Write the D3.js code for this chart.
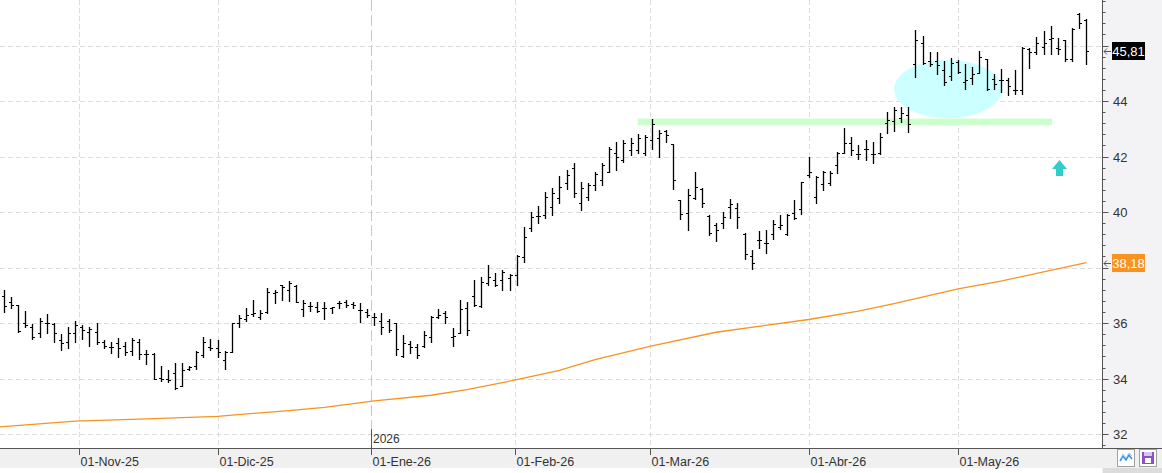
<!DOCTYPE html>
<html>
<head>
<meta charset="utf-8">
<script src="https://cdnjs.cloudflare.com/ajax/libs/d3/7.8.5/d3.min.js"></script>
<style>
  body { margin: 0; background: #fff; }
  svg { display: block; font-family: "Liberation Sans", Arial, sans-serif; }
</style>
</head>
<body>
<div id="chart"></div>
<script>
// daily OHLC, one entry per session (mid Oct 25 -> mid May 26)
const opens = [36.97,36.77,36.65,36.0,35.87,35.63,35.99,35.95,35.39,35.33,35.63,35.87,35.69,35.69,35.33,35.15,35.27,35.19,34.99,35.33,
  34.89,34.89,34.01,33.99,34.21,33.73,34.33,34.45,34.85,35.15,35.09,34.67,34.95,36.0,36.13,36.31,36.23,36.41,37.1,37.37,
  37.19,37.33,36.49,36.61,36.59,36.53,36.53,36.71,36.77,36.69,36.47,36.41,36.23,36.07,36.07,36.01,34.81,35.25,35.15,35.17,
  35.51,36.23,36.35,35.51,35.65,36.53,36.97,36.61,37.45,37.55,37.55,37.61,37.73,38.39,39.41,39.85,39.89,40.17,40.49,41.03,
  41.57,40.31,40.55,40.97,41.17,41.43,42.13,41.86,42.24,42.24,42.12,42.6,42.66,42.92,42.46,40.44,39.96,40.5,40.84,39.86,
  39.54,39.6,40.2,40.14,39.22,38.4,39.0,38.88,39.22,39.46,39.22,39.98,40.1,41.34,40.54,41.02,41.06,41.7,42.14,42.5,
  42.1,42.26,42.1,42.12,43.2,43.28,43.38,43.5,45.34,46.08,45.46,45.46,45.12,44.9,45.42,44.7,44.82,45.0,45.5,44.8,
  44.74,44.76,44.4,44.4,45.86,45.76,45.96,46.24,45.9,46.2,45.5,47.12,46.92];
const highs = [37.19,36.95,36.65,36.43,35.97,36.17,36.31,35.99,35.61,35.87,36.06,35.93,35.87,35.99,35.39,35.33,35.45,35.33,35.45,35.42,
  35.03,34.91,34.45,34.31,34.57,34.55,34.45,34.99,35.51,35.41,35.39,34.99,35.99,36.29,36.53,36.83,36.47,37.25,37.19,37.37,
  37.53,37.37,36.83,36.77,36.77,36.75,36.59,36.81,36.83,36.75,36.71,36.49,36.35,36.37,36.13,36.01,35.57,35.37,35.23,35.73,
  36.27,36.51,36.45,35.81,36.83,36.75,37.55,37.67,38.09,37.79,37.91,37.77,38.47,39.45,40.01,40.21,40.73,40.85,41.29,41.51,
  41.75,41.09,41.05,41.43,41.75,42.35,42.51,42.6,42.66,42.82,42.78,43.34,42.94,42.96,42.46,40.44,40.82,41.46,40.86,39.9,
  39.62,40.02,40.46,40.32,39.24,38.62,39.3,39.34,39.72,39.9,39.94,40.44,41.1,42.0,41.3,41.48,41.48,42.18,43.02,42.7,
  42.42,42.6,42.54,42.86,43.62,43.78,43.78,43.78,46.56,46.34,45.76,45.76,45.46,45.54,45.48,45.34,45.24,45.8,45.5,44.98,
  45.14,44.82,45.12,45.94,45.9,46.3,46.52,46.72,46.26,46.2,46.64,47.16,46.94];
const lows = [36.41,36.53,35.69,35.87,35.41,35.51,35.65,35.33,35.03,35.11,35.33,35.41,35.19,35.25,35.09,34.91,34.77,34.85,34.85,34.71,
  34.51,33.99,33.93,33.89,33.61,33.73,34.31,34.33,34.79,35.03,34.77,34.33,34.95,35.87,36.09,36.27,36.13,36.35,36.71,36.83,
  36.81,36.77,36.27,36.45,36.41,36.15,36.35,36.53,36.57,36.53,36.05,36.23,35.93,35.59,35.67,34.85,34.79,34.93,34.75,35.15,
  35.33,36.17,36.01,35.19,35.63,35.57,36.61,36.57,37.37,37.33,37.21,37.21,37.37,38.21,39.33,39.59,39.77,39.91,40.33,40.83,
  40.55,40.07,40.45,40.79,40.99,41.43,41.53,41.8,42.04,42.12,42.06,42.26,42.0,42.52,40.82,39.74,39.34,40.46,40.18,39.18,
  38.94,39.42,39.78,39.42,38.3,37.94,38.7,38.52,39.02,39.38,39.18,39.74,39.92,41.26,40.34,40.8,40.98,41.4,42.12,42.04,
  41.92,41.88,41.76,42.08,42.84,42.92,43.24,42.88,44.88,45.32,45.26,44.98,44.56,44.76,45.02,44.44,44.62,45.0,44.38,44.44,
  44.34,44.2,44.24,44.24,45.2,45.7,45.68,45.7,45.68,45.46,45.46,46.62,45.32];
const closes = [36.61,36.65,35.72,35.93,35.49,36.09,35.99,35.65,35.27,35.63,35.93,35.75,35.77,35.33,35.19,35.15,35.09,34.97,35.39,34.89,
  34.89,33.99,33.97,33.95,33.65,34.31,34.41,34.97,35.33,35.09,34.97,34.97,35.99,36.17,36.29,36.35,36.37,37.13,37.13,37.3,
  37.43,36.77,36.71,36.61,36.45,36.53,36.59,36.71,36.65,36.65,36.47,36.29,36.23,35.87,35.75,35.05,35.27,35.15,34.85,35.57,
  36.23,36.29,36.23,35.53,36.49,35.75,36.65,37.47,37.67,37.37,37.85,37.73,38.41,39.11,39.83,39.85,40.55,40.69,40.89,41.33,
  40.67,40.85,40.97,41.37,41.69,42.29,41.97,42.5,42.5,42.66,42.72,43.18,42.84,42.78,41.16,39.94,40.62,40.9,40.32,39.24,
  39.34,39.82,40.3,39.82,38.5,38.16,39.0,38.88,39.58,39.54,39.9,39.78,41.1,41.44,41.28,41.46,41.4,42.14,42.48,42.24,
  42.1,42.28,42.1,42.72,43.32,43.66,43.58,43.16,46.2,45.38,45.32,45.3,44.7,45.38,45.06,44.74,44.98,45.58,44.42,44.62,
  44.74,44.54,44.4,45.9,45.78,46.1,46.1,46.26,45.86,45.5,46.6,46.8,45.81];

// long moving average (orange), read at a few sessions
const maIndex  = [-0.6, 10, 20, 30, 40, 45, 52, 60, 65, 72, 78, 83, 91, 100, 113, 120, 125, 134, 140, 152];
const maValues = [32.26,32.47,32.55,32.64,32.85,32.96,33.2,33.4,33.6,33.96,34.3,34.68,35.18,35.67,36.13,36.43,36.7,37.23,37.51,38.18];

// month ticks (session position of the 1st of each month)
const monthIndex  = [10.5, 30, 51.5, 71.75, 90.75, 113, 134];
const monthLabels = ['01-Nov-25', '01-Dic-25', '01-Ene-26', '01-Feb-26', '01-Mar-26', '01-Abr-26', '01-May-26'];
const yearIndex = 51.5;
const yearLabel = '2026';

const priceTicks = [32, 34, 36, 38, 40, 42, 44, 46];

// annotations
const resistance = 43.25;
const resistanceFrom = 89, resistanceTo = 147.2;
const zoneIndex = 132.6, zonePrice = 44.43, zoneHalfBars = 7.6, zoneHalfPrice = 1.05;
const arrowIndex = 148.1, arrowPrice = 41.87;

const lastClose = closes[closes.length - 1];
const lastMa = maValues[maValues.length - 1];

const w = 1162;
const h = 473;
const plotRight = 1102.5;
const plotBottom = 448.5;
const maColor = '#f7931e';

const x = d3.scaleLinear().domain([0, 152]).range([4, 1086.3]);
const y = d3.scaleLinear().domain([31.5, 47.64]).range([448, 0]);
const px = (v) => Math.round(x(v)) + 0.5;
const py = (v) => Math.round(y(v)) + 0.5;

const svg = d3.select('#chart')
  .append('svg')
  .attr('width', w)
  .attr('height', h);

svg.append('rect').attr('width', w).attr('height', h).attr('fill', '#fff');

// right panel + bottom band
svg.append('rect').attr('x', plotRight).attr('y', 0).attr('width', w - plotRight).attr('height', plotBottom).attr('fill', '#f3f3f5');
svg.append('rect').attr('x', 0).attr('y', plotBottom).attr('width', w).attr('height', 19.5).attr('fill', '#f0f0f0');
svg.append('rect').attr('x', plotRight).attr('y', 468).attr('width', w - plotRight).attr('height', 5).attr('fill', '#dcdcdc');

svg.append('clipPath').attr('id', 'plot')
  .append('rect').attr('width', plotRight).attr('height', plotBottom);

const plot = svg.append('g').attr('clip-path', 'url(#plot)');

// grid
plot.selectAll('.hgrid')
  .data(priceTicks)
  .enter()
  .append('line')
  .attr('x1', 0).attr('x2', plotRight)
  .attr('y1', (d) => py(d)).attr('y2', (d) => py(d))
  .attr('stroke', '#dcdcdc')
  .attr('stroke-dasharray', '5,3');

plot.selectAll('.vgrid')
  .data(monthIndex)
  .enter()
  .append('line')
  .attr('x1', (d) => px(d)).attr('x2', (d) => px(d))
  .attr('y1', 0).attr('y2', plotBottom)
  .attr('stroke', (d) => d === yearIndex ? '#c8c8c8' : '#dcdcdc')
  .attr('stroke-dasharray', (d) => d === yearIndex ? '11,4' : '5,3');

// resistance band and zone
plot.append('rect')
  .attr('x', x(resistanceFrom))
  .attr('y', y(resistance) - 3.3)
  .attr('width', x(resistanceTo) - x(resistanceFrom))
  .attr('height', 6.6)
  .attr('fill', '#ccffcc');

plot.append('ellipse')
  .attr('cx', x(zoneIndex))
  .attr('cy', y(zonePrice))
  .attr('rx', x(zoneIndex + zoneHalfBars) - x(zoneIndex))
  .attr('ry', y(zonePrice - zoneHalfPrice) - y(zonePrice))
  .attr('fill', '#ccffff');

// moving average
const maLine = d3.line()
  .x((d) => x(d[0]))
  .y((d) => y(d[1]));

plot.append('path')
  .datum(maIndex.map((d, i) => [d, maValues[i]]))
  .attr('d', maLine)
  .attr('fill', 'none')
  .attr('stroke', maColor)
  .attr('stroke-width', 1.3);

// OHLC bars
const bars = plot.selectAll('.bar')
  .data(closes.map((c, i) => ({ i, o: opens[i], h: highs[i], l: lows[i], c })))
  .enter()
  .append('g')
  .attr('class', 'bar')
  .attr('stroke', '#000')
  .attr('stroke-width', 1);

bars.append('line')
  .attr('x1', (d) => px(d.i)).attr('x2', (d) => px(d.i))
  .attr('y1', (d) => Math.round(y(d.h))).attr('y2', (d) => Math.round(y(d.l)) + 1)
  .attr('stroke-width', 1.3);

bars.append('line')
  .attr('x1', (d) => px(d.i) - 2.5).attr('x2', (d) => px(d.i))
  .attr('y1', (d) => py(d.o)).attr('y2', (d) => py(d.o));

bars.append('line')
  .attr('x1', (d) => px(d.i)).attr('x2', (d) => px(d.i) + 2.5)
  .attr('y1', (d) => py(d.c)).attr('y2', (d) => py(d.c));

// up arrow
const ax = Math.round(x(arrowIndex)) + 0.5;
const ay = Math.round(y(arrowPrice));
plot.append('path')
  .attr('d', `M${ax},${ay} L${ax + 7.5},${ay + 9} L${ax + 3.5},${ay + 9} L${ax + 3.5},${ay + 16} L${ax - 3.5},${ay + 16} L${ax - 3.5},${ay + 9} L${ax - 7.5},${ay + 9} Z`)
  .attr('fill', '#33cccc');

// right axis
const minorTicks = d3.range(31.6, 47.7, 0.4);
svg.append('g')
  .selectAll('line')
  .data(minorTicks)
  .enter()
  .append('line')
  .attr('x1', plotRight).attr('x2', plotRight + 3)
  .attr('y1', (d) => py(d)).attr('y2', (d) => py(d))
  .attr('stroke', '#555');

svg.append('g')
  .selectAll('line')
  .data(priceTicks)
  .enter()
  .append('line')
  .attr('x1', plotRight).attr('x2', plotRight + 6)
  .attr('y1', (d) => py(d)).attr('y2', (d) => py(d))
  .attr('stroke', '#555');

// labels hidden behind the last-value boxes are left out, as in the original
const markerValues = [lastClose, lastMa];
svg.append('g')
  .selectAll('text')
  .data(priceTicks.filter((d) => markerValues.every((m) => Math.abs(y(d) - y(m)) > 14)))
  .enter()
  .append('text')
  .attr('x', 1113)
  .attr('y', (d) => y(d) + 5)
  .text((d) => d)
  .style('font-size', '13px')
  .attr('fill', '#333');

svg.append('line')
  .attr('x1', plotRight).attr('x2', plotRight)
  .attr('y1', 0).attr('y2', plotBottom)
  .attr('stroke', '#555');

// bottom axis
svg.append('line')
  .attr('x1', 0).attr('x2', w)
  .attr('y1', plotBottom).attr('y2', plotBottom)
  .attr('stroke', '#555');

svg.append('g')
  .selectAll('line')
  .data(monthIndex)
  .enter()
  .append('line')
  .attr('x1', (d) => px(d)).attr('x2', (d) => px(d))
  .attr('y1', (d) => d === yearIndex ? 429 : plotBottom).attr('y2', 455)
  .attr('stroke', '#555');

svg.append('g')
  .selectAll('text')
  .data(monthIndex)
  .enter()
  .append('text')
  .attr('x', (d) => px(d) + 1)
  .attr('y', 466)
  .text((d, i) => monthLabels[i])
  .style('font-size', '12.5px')
  .attr('fill', '#333');

svg.append('text')
  .attr('x', px(yearIndex) + 1.5)
  .attr('y', 443)
  .text(yearLabel)
  .style('font-size', '12px')
  .attr('fill', '#333');

// last value markers
const markers = [
  { v: lastClose, fill: '#000' },
  { v: lastMa, fill: maColor }
];
markers.forEach((m) => {
  const my = Math.round(y(m.v));
  svg.append('path')
    .attr('d', `M1104,${my + 0.5} H1111 M1107,${my - 2.5} L1104,${my + 0.5} L1107,${my + 3.5}`)
    .attr('fill', 'none')
    .attr('stroke', '#555');
  svg.append('rect')
    .attr('x', 1112).attr('y', my - 9)
    .attr('width', 33).attr('height', 18)
    .attr('fill', m.fill);
  svg.append('text')
    .attr('x', 1128.5).attr('y', my + 5)
    .attr('text-anchor', 'middle')
    .text(d3.format('.2f')(m.v).replace('.', ','))
    .style('font-size', '13px')
    .attr('fill', '#fff');
});

// toolbar buttons bottom right
svg.append('rect').attr('x', 1117.5).attr('y', 449.5).attr('width', 17).attr('height', 17)
  .attr('fill', '#fff').attr('stroke', '#a0a0a0');
svg.append('path').attr('d', 'M1120,461 L1123,456 L1126,460 L1129,455 L1132,459')
  .attr('fill', 'none').attr('stroke', '#3a8ee6').attr('stroke-width', 1.5);
svg.append('path').attr('d', 'M1121,458 L1123,454 L1126,458 L1129,453 L1132,456')
  .attr('fill', 'none').attr('stroke', '#9cc8f2').attr('stroke-width', 1);
svg.append('rect').attr('x', 1139.5).attr('y', 449.5).attr('width', 17).attr('height', 17)
  .attr('fill', '#fff').attr('stroke', '#a0a0a0');
svg.append('rect').attr('x', 1142).attr('y', 452).attr('width', 12).attr('height', 12)
  .attr('fill', '#8c4fc9');
svg.append('rect').attr('x', 1145).attr('y', 458).attr('width', 6).attr('height', 5)
  .attr('fill', '#fff');
svg.append('rect').attr('x', 1144).attr('y', 452).attr('width', 8).attr('height', 4)
  .attr('fill', '#d9c4f0');
</script>
</body>
</html>
